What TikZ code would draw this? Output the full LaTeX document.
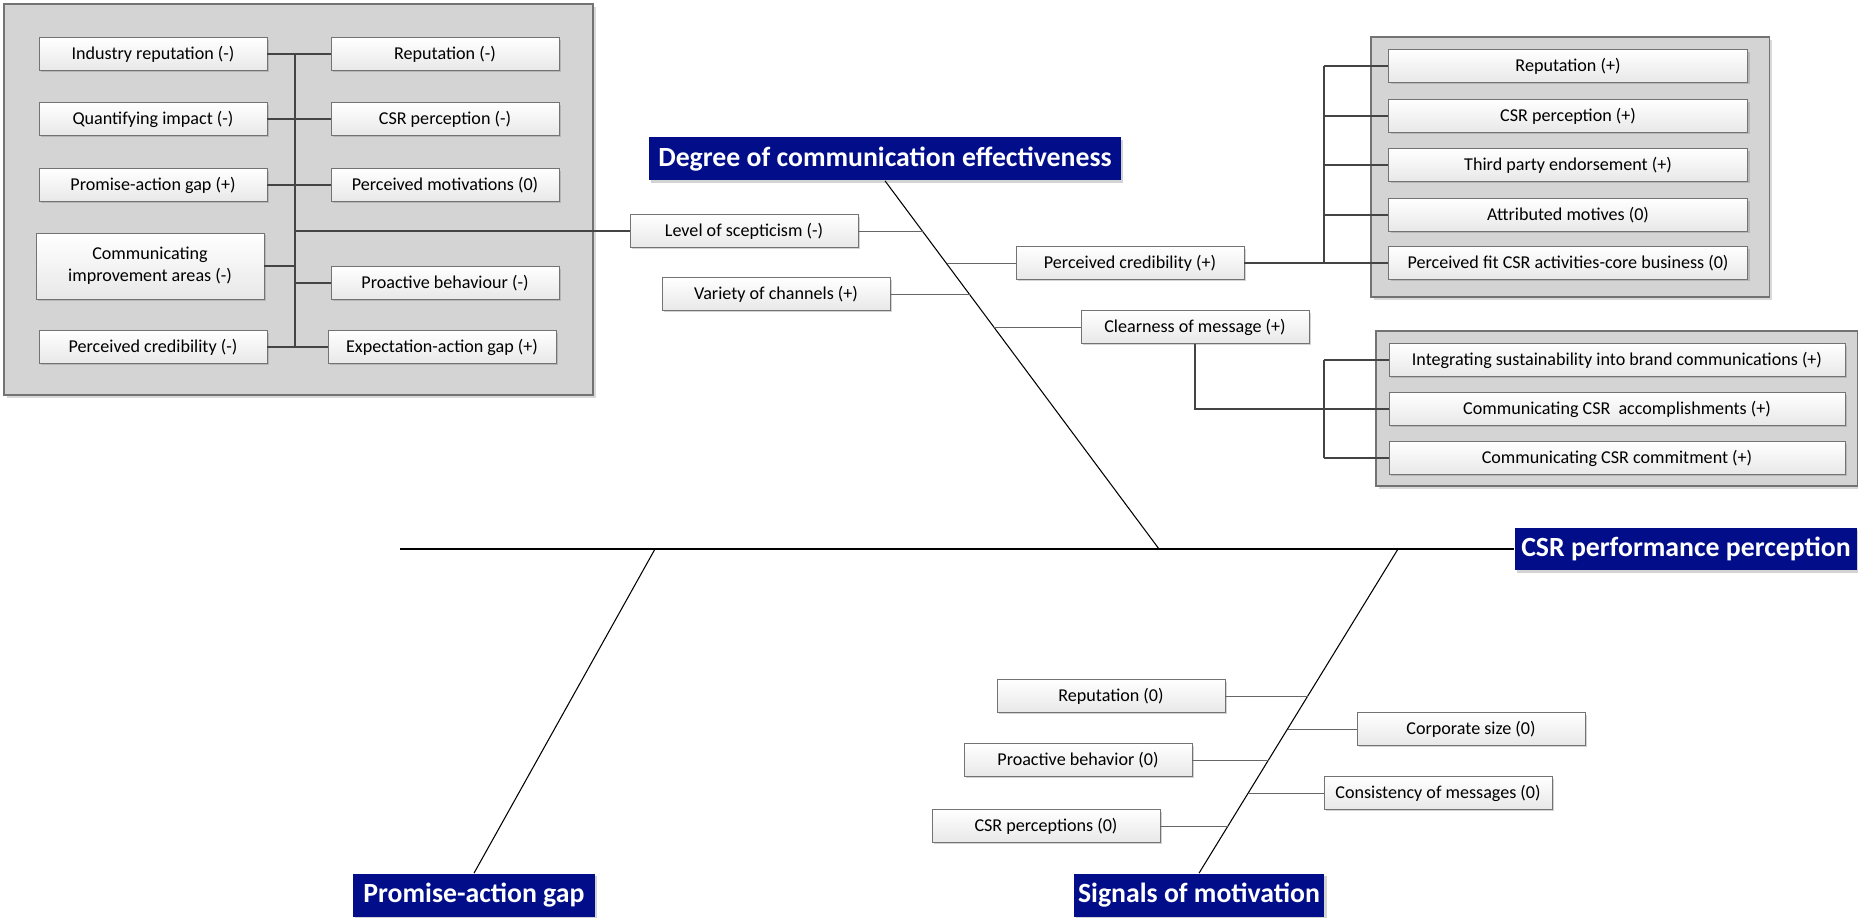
\documentclass[tikz,border=0pt]{standalone}
\usepackage{fontspec}
\setmainfont{Carlito}
\usepackage{tikz}
\usetikzlibrary{positioning,calc,shadows}

\definecolor{headblue}{RGB}{2,14,137}
\definecolor{grpgray}{RGB}{212,212,212}
\definecolor{linegray}{RGB}{68,68,68}

\begin{document}
\begin{tikzpicture}[x=0.02cm, y=-0.02cm,
  item/.style={draw=gray!90!black, line width=0.5pt, top color=white, bottom color=gray!18,
    minimum width=#1, minimum height=0.65cm, align=center, inner sep=1pt,
    font=\fontsize{10.3}{12.5}\selectfont,
    drop shadow={shadow xshift=1.2pt, shadow yshift=-1.2pt, fill=gray, opacity=0.35}},
  item/.default=4.56cm,
  head/.style={fill=headblue, text=white, minimum width=#1, minimum height=0.86cm, inner sep=0pt,
    font=\bfseries\fontsize{15.8}{18}\selectfont,
    drop shadow={shadow xshift=1.2pt, shadow yshift=-1.2pt, fill=gray, opacity=0.35}},
  grp/.style={draw=gray!90!black, fill=grpgray, line width=0.6pt,
    drop shadow={shadow xshift=1.5pt, shadow yshift=-1.5pt, fill=gray, opacity=0.3}},
  bone/.style={draw=black, line width=0.6pt},
  twig/.style={draw=gray!80!black, line width=0.5pt},
  link/.style={draw=linegray, line width=1.4pt}
]
\useasboundingbox (0,0) rectangle (1858,918);

% groups
\draw[grp] (4,4) rectangle (593,395);
\draw[grp] (1371,37) rectangle (1769,297);
\draw[grp] (1376,331) rectangle (1857,486);

% left group
\node[item] (indrep) at (153,54) {Industry reputation (-)};
\node[item] (quantimp) at (153,119) {Quantifying impact (-)};
\node[item] (pagapm) at (153,185) {Promise-action gap (+)};
\node[item, minimum height=1.32cm] (commimp) at (150,266) {Communicating\\improvement areas (-)};
\node[item] (percredm) at (153,347) {Perceived credibility (-)};
\node[item] (repm) at (445,54) {Reputation (-)};
\node[item] (csrpm) at (445,119) {CSR perception (-)};
\node[item] (percmot) at (445,185) {Perceived motivations (0)};
\node[item] (proactm) at (445,283) {Proactive behaviour (-)};
\node[item] (expgap) at (442,347) {Expectation-action gap (+)};
\coordinate (ltop) at (295,54);
\coordinate (lbot) at (295,347);

% top branch
\node[head=9.44cm] (degree) at (885,159) {Degree of communication effectiveness};
\node[item] (level) at (744,231) {Level of scepticism (-)};
\node[item] (pcplus) at (1130,263) {Perceived credibility (+)};
\node[item] (variety) at (776,294) {Variety of channels (+)};
\node[item] (clear) at (1195,327) {Clearness of message (+)};

% top right group
\node[item=7.18cm] (repp) at (1568,66) {Reputation (+)};
\node[item=7.18cm] (csrpp) at (1568,116) {CSR perception (+)};
\node[item=7.18cm] (third) at (1568,165) {Third party endorsement (+)};
\node[item=7.18cm] (attr) at (1568,215) {Attributed motives (0)};
\node[item=7.18cm] (fit) at (1568,263) {Perceived fit CSR activities-core business (0)};
\coordinate (rtop) at (1324,66);
\coordinate (rbot) at (1324,263);

% message group
\node[item=9.12cm] (integ) at (1617,360) {Integrating sustainability into brand communications (+)};
\node[item=9.12cm] (accompl) at (1617,409) {Communicating CSR~ accomplishments (+)};
\node[item=9.12cm] (commit) at (1617,458) {Communicating CSR commitment (+)};
\coordinate (btop) at (1324,360);
\coordinate (bbot) at (1324,458);

% spine and heads
\node[head=6.86cm] (csrperf) at (1686,549) {CSR performance perception};
\node[head=4.84cm] (pagap) at (474,895) {Promise-action gap};
\node[head=5.02cm] (signals) at (1199,895) {Signals of motivation};
\coordinate (tail) at (400,549);
\coordinate (topend) at (1159,549);
\coordinate (pagend) at (655,549);
\coordinate (sigend) at (1398,549);

% bottom branch
\node[item] (rep0) at (1111,696) {Reputation (0)};
\node[item] (corp) at (1471,729) {Corporate size (0)};
\node[item] (proact0) at (1078,760) {Proactive behavior (0)};
\node[item] (consist) at (1438,793) {Consistency of messages (0)};
\node[item] (csrp0) at (1046,826) {CSR perceptions (0)};

% points on the bones
\coordinate (d1) at (923,231);
\coordinate (d2) at (947,263);
\coordinate (d3) at (970,294);
\coordinate (d4) at (994,327);
\coordinate (s1) at (1308,696);
\coordinate (s2) at (1288,729);
\coordinate (s3) at (1269,760);
\coordinate (s4) at (1249,793);
\coordinate (s5) at (1228,826);

% bones
\draw[bone] (tail) -- (csrperf.west);
\draw[bone] (degree.south) -- (topend);
\draw[bone] (pagend) -- (pagap.north);
\draw[bone] (sigend) -- (signals.north);

\draw[twig] (level.east) -- (d1);
\draw[twig] (d2) -- (pcplus.west);
\draw[twig] (variety.east) -- (d3);
\draw[twig] (d4) -- (clear.west);
\draw[twig] (rep0.east) -- (s1);
\draw[twig] (s2) -- (corp.west);
\draw[twig] (proact0.east) -- (s3);
\draw[twig] (s4) -- (consist.west);
\draw[twig] (csrp0.east) -- (s5);

% links
\draw[link] (ltop) -- (lbot);
\foreach \n in {indrep,quantimp,pagapm,commimp,percredm}
  \draw[link] (\n.east) -- (\n.east -| ltop);
\foreach \n in {repm,csrpm,percmot,proactm,expgap}
  \draw[link] (\n.west) -- (\n.west -| ltop);
\draw[link] (level.west) -- (level.west -| ltop);

\draw[link] (rtop) -- (rbot);
\foreach \n in {repp,csrpp,third,attr,fit}
  \draw[link] (\n.west) -- (\n.west -| rtop);
\draw[link] (pcplus.east) -- (pcplus.east -| rtop);

\draw[link] (btop) -- (bbot);
\foreach \n in {integ,accompl,commit}
  \draw[link] (\n.west) -- (\n.west -| btop);
\draw[link] (clear.south) |- (accompl.west);
\end{tikzpicture}
\end{document}
